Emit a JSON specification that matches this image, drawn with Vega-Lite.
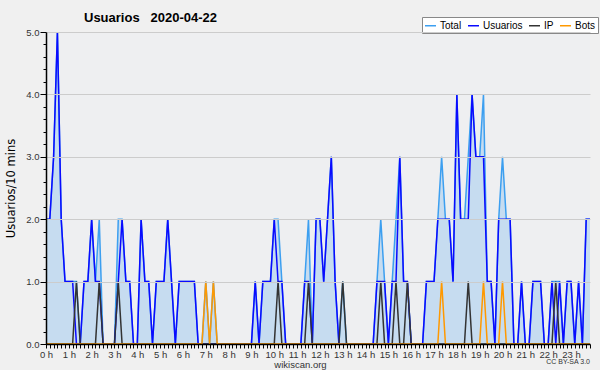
{
  "$schema": "https://vega.github.io/schema/vega-lite/v6.json",
  "width": 544,
  "height": 312,
  "autosize": {"type": "none"},
  "padding": {"left": 46, "top": 32, "right": 10, "bottom": 26},
  "background": "#f0f0f0",
  "config": {
    "view": {"fill": "#eeeff1", "stroke": null},
    "font": "Liberation Sans"
  },
  "title": {"text": "Usuarios\u00a0\u00a0 2020-04-22", "anchor": "start", "frame": "group", "dx": 38, "dy": 17, "fontSize": 13, "fontWeight": "bold", "font": "Liberation Sans", "color": "#000000", "offset": 9},
  "data": {"values": [
    {"t":0,"Total":2,"Usuarios":2,"IP":0,"Bots":0},
    {"t":10,"Total":2,"Usuarios":2,"IP":0,"Bots":0},
    {"t":20,"Total":3,"Usuarios":3,"IP":0,"Bots":0},
    {"t":30,"Total":5,"Usuarios":5,"IP":0,"Bots":0},
    {"t":40,"Total":2,"Usuarios":2,"IP":0,"Bots":0},
    {"t":50,"Total":1,"Usuarios":1,"IP":0,"Bots":0},
    {"t":60,"Total":1,"Usuarios":1,"IP":0,"Bots":0},
    {"t":70,"Total":1,"Usuarios":1,"IP":0,"Bots":0},
    {"t":80,"Total":1,"Usuarios":0,"IP":1,"Bots":0},
    {"t":90,"Total":0,"Usuarios":0,"IP":0,"Bots":0},
    {"t":100,"Total":1,"Usuarios":1,"IP":0,"Bots":0},
    {"t":110,"Total":1,"Usuarios":1,"IP":0,"Bots":0},
    {"t":120,"Total":2,"Usuarios":2,"IP":0,"Bots":0},
    {"t":130,"Total":1,"Usuarios":1,"IP":0,"Bots":0},
    {"t":140,"Total":2,"Usuarios":1,"IP":1,"Bots":0},
    {"t":150,"Total":0,"Usuarios":0,"IP":0,"Bots":0},
    {"t":160,"Total":0,"Usuarios":0,"IP":0,"Bots":0},
    {"t":170,"Total":0,"Usuarios":0,"IP":0,"Bots":0},
    {"t":180,"Total":0,"Usuarios":0,"IP":0,"Bots":0},
    {"t":190,"Total":2,"Usuarios":1,"IP":1,"Bots":0},
    {"t":200,"Total":2,"Usuarios":2,"IP":0,"Bots":0},
    {"t":210,"Total":1,"Usuarios":1,"IP":0,"Bots":0},
    {"t":220,"Total":1,"Usuarios":1,"IP":0,"Bots":0},
    {"t":230,"Total":0,"Usuarios":0,"IP":0,"Bots":0},
    {"t":240,"Total":0,"Usuarios":0,"IP":0,"Bots":0},
    {"t":250,"Total":2,"Usuarios":2,"IP":0,"Bots":0},
    {"t":260,"Total":1,"Usuarios":1,"IP":0,"Bots":0},
    {"t":270,"Total":1,"Usuarios":1,"IP":0,"Bots":0},
    {"t":280,"Total":0,"Usuarios":0,"IP":0,"Bots":0},
    {"t":290,"Total":1,"Usuarios":1,"IP":0,"Bots":0},
    {"t":300,"Total":1,"Usuarios":1,"IP":0,"Bots":0},
    {"t":310,"Total":1,"Usuarios":1,"IP":0,"Bots":0},
    {"t":320,"Total":2,"Usuarios":2,"IP":0,"Bots":0},
    {"t":330,"Total":1,"Usuarios":1,"IP":0,"Bots":0},
    {"t":340,"Total":0,"Usuarios":0,"IP":0,"Bots":0},
    {"t":350,"Total":1,"Usuarios":1,"IP":0,"Bots":0},
    {"t":360,"Total":1,"Usuarios":1,"IP":0,"Bots":0},
    {"t":370,"Total":1,"Usuarios":1,"IP":0,"Bots":0},
    {"t":380,"Total":1,"Usuarios":1,"IP":0,"Bots":0},
    {"t":390,"Total":1,"Usuarios":1,"IP":0,"Bots":0},
    {"t":400,"Total":0,"Usuarios":0,"IP":0,"Bots":0},
    {"t":410,"Total":0,"Usuarios":0,"IP":0,"Bots":0},
    {"t":420,"Total":1,"Usuarios":0,"IP":0,"Bots":1},
    {"t":430,"Total":0,"Usuarios":0,"IP":0,"Bots":0},
    {"t":440,"Total":1,"Usuarios":0,"IP":0,"Bots":1},
    {"t":450,"Total":0,"Usuarios":0,"IP":0,"Bots":0},
    {"t":460,"Total":0,"Usuarios":0,"IP":0,"Bots":0},
    {"t":470,"Total":0,"Usuarios":0,"IP":0,"Bots":0},
    {"t":480,"Total":0,"Usuarios":0,"IP":0,"Bots":0},
    {"t":490,"Total":0,"Usuarios":0,"IP":0,"Bots":0},
    {"t":500,"Total":0,"Usuarios":0,"IP":0,"Bots":0},
    {"t":510,"Total":0,"Usuarios":0,"IP":0,"Bots":0},
    {"t":520,"Total":0,"Usuarios":0,"IP":0,"Bots":0},
    {"t":530,"Total":0,"Usuarios":0,"IP":0,"Bots":0},
    {"t":540,"Total":0,"Usuarios":0,"IP":0,"Bots":0},
    {"t":550,"Total":1,"Usuarios":1,"IP":0,"Bots":0},
    {"t":560,"Total":0,"Usuarios":0,"IP":0,"Bots":0},
    {"t":570,"Total":1,"Usuarios":1,"IP":0,"Bots":0},
    {"t":580,"Total":1,"Usuarios":1,"IP":0,"Bots":0},
    {"t":590,"Total":1,"Usuarios":1,"IP":0,"Bots":0},
    {"t":600,"Total":2,"Usuarios":2,"IP":0,"Bots":0},
    {"t":610,"Total":2,"Usuarios":1,"IP":1,"Bots":0},
    {"t":620,"Total":1,"Usuarios":1,"IP":0,"Bots":0},
    {"t":630,"Total":0,"Usuarios":0,"IP":0,"Bots":0},
    {"t":640,"Total":0,"Usuarios":0,"IP":0,"Bots":0},
    {"t":650,"Total":0,"Usuarios":0,"IP":0,"Bots":0},
    {"t":660,"Total":0,"Usuarios":0,"IP":0,"Bots":0},
    {"t":670,"Total":0,"Usuarios":0,"IP":0,"Bots":0},
    {"t":680,"Total":1,"Usuarios":1,"IP":0,"Bots":0},
    {"t":690,"Total":2,"Usuarios":1,"IP":1,"Bots":0},
    {"t":700,"Total":0,"Usuarios":0,"IP":0,"Bots":0},
    {"t":710,"Total":2,"Usuarios":2,"IP":0,"Bots":0},
    {"t":720,"Total":2,"Usuarios":2,"IP":0,"Bots":0},
    {"t":730,"Total":1,"Usuarios":1,"IP":0,"Bots":0},
    {"t":740,"Total":2,"Usuarios":2,"IP":0,"Bots":0},
    {"t":750,"Total":3,"Usuarios":3,"IP":0,"Bots":0},
    {"t":760,"Total":1,"Usuarios":1,"IP":0,"Bots":0},
    {"t":770,"Total":0,"Usuarios":0,"IP":0,"Bots":0},
    {"t":780,"Total":1,"Usuarios":0,"IP":1,"Bots":0},
    {"t":790,"Total":0,"Usuarios":0,"IP":0,"Bots":0},
    {"t":800,"Total":0,"Usuarios":0,"IP":0,"Bots":0},
    {"t":810,"Total":0,"Usuarios":0,"IP":0,"Bots":0},
    {"t":820,"Total":0,"Usuarios":0,"IP":0,"Bots":0},
    {"t":830,"Total":0,"Usuarios":0,"IP":0,"Bots":0},
    {"t":840,"Total":0,"Usuarios":0,"IP":0,"Bots":0},
    {"t":850,"Total":0,"Usuarios":0,"IP":0,"Bots":0},
    {"t":860,"Total":0,"Usuarios":0,"IP":0,"Bots":0},
    {"t":870,"Total":1,"Usuarios":1,"IP":0,"Bots":0},
    {"t":880,"Total":2,"Usuarios":1,"IP":1,"Bots":0},
    {"t":890,"Total":1,"Usuarios":1,"IP":0,"Bots":0},
    {"t":900,"Total":0,"Usuarios":0,"IP":0,"Bots":0},
    {"t":910,"Total":1,"Usuarios":1,"IP":0,"Bots":0},
    {"t":920,"Total":2,"Usuarios":1,"IP":1,"Bots":0},
    {"t":930,"Total":3,"Usuarios":3,"IP":0,"Bots":0},
    {"t":940,"Total":1,"Usuarios":1,"IP":0,"Bots":0},
    {"t":950,"Total":1,"Usuarios":1,"IP":1,"Bots":0},
    {"t":960,"Total":0,"Usuarios":0,"IP":0,"Bots":0},
    {"t":970,"Total":0,"Usuarios":0,"IP":0,"Bots":0},
    {"t":980,"Total":0,"Usuarios":0,"IP":0,"Bots":0},
    {"t":990,"Total":0,"Usuarios":0,"IP":0,"Bots":0},
    {"t":1000,"Total":1,"Usuarios":1,"IP":0,"Bots":0},
    {"t":1010,"Total":1,"Usuarios":1,"IP":0,"Bots":0},
    {"t":1020,"Total":1,"Usuarios":1,"IP":0,"Bots":0},
    {"t":1030,"Total":2,"Usuarios":2,"IP":0,"Bots":0},
    {"t":1040,"Total":3,"Usuarios":2,"IP":0,"Bots":1},
    {"t":1050,"Total":2,"Usuarios":2,"IP":0,"Bots":0},
    {"t":1060,"Total":2,"Usuarios":2,"IP":0,"Bots":0},
    {"t":1070,"Total":1,"Usuarios":1,"IP":0,"Bots":0},
    {"t":1080,"Total":4,"Usuarios":4,"IP":0,"Bots":0},
    {"t":1090,"Total":2,"Usuarios":2,"IP":0,"Bots":0},
    {"t":1100,"Total":2,"Usuarios":2,"IP":0,"Bots":0},
    {"t":1110,"Total":3,"Usuarios":2,"IP":1,"Bots":0},
    {"t":1120,"Total":4,"Usuarios":4,"IP":0,"Bots":0},
    {"t":1130,"Total":3,"Usuarios":3,"IP":0,"Bots":0},
    {"t":1140,"Total":3,"Usuarios":3,"IP":0,"Bots":0},
    {"t":1150,"Total":4,"Usuarios":3,"IP":0,"Bots":1},
    {"t":1160,"Total":1,"Usuarios":1,"IP":0,"Bots":0},
    {"t":1170,"Total":1,"Usuarios":1,"IP":0,"Bots":0},
    {"t":1180,"Total":0,"Usuarios":0,"IP":0,"Bots":0},
    {"t":1190,"Total":2,"Usuarios":2,"IP":0,"Bots":0},
    {"t":1200,"Total":3,"Usuarios":2,"IP":0,"Bots":1},
    {"t":1210,"Total":2,"Usuarios":2,"IP":0,"Bots":0},
    {"t":1220,"Total":2,"Usuarios":2,"IP":0,"Bots":0},
    {"t":1230,"Total":0,"Usuarios":0,"IP":0,"Bots":0},
    {"t":1240,"Total":0,"Usuarios":0,"IP":0,"Bots":0},
    {"t":1250,"Total":1,"Usuarios":1,"IP":0,"Bots":0},
    {"t":1260,"Total":0,"Usuarios":0,"IP":0,"Bots":0},
    {"t":1270,"Total":0,"Usuarios":0,"IP":0,"Bots":0},
    {"t":1280,"Total":1,"Usuarios":1,"IP":0,"Bots":0},
    {"t":1290,"Total":1,"Usuarios":1,"IP":0,"Bots":0},
    {"t":1300,"Total":1,"Usuarios":1,"IP":0,"Bots":0},
    {"t":1310,"Total":0,"Usuarios":0,"IP":0,"Bots":0},
    {"t":1320,"Total":0,"Usuarios":0,"IP":0,"Bots":0},
    {"t":1330,"Total":1,"Usuarios":1,"IP":0,"Bots":0},
    {"t":1340,"Total":1,"Usuarios":0,"IP":1,"Bots":0},
    {"t":1350,"Total":1,"Usuarios":1,"IP":0,"Bots":0},
    {"t":1360,"Total":0,"Usuarios":0,"IP":0,"Bots":0},
    {"t":1370,"Total":1,"Usuarios":1,"IP":0,"Bots":0},
    {"t":1380,"Total":1,"Usuarios":1,"IP":0,"Bots":0},
    {"t":1390,"Total":0,"Usuarios":0,"IP":0,"Bots":0},
    {"t":1400,"Total":1,"Usuarios":1,"IP":0,"Bots":0},
    {"t":1410,"Total":0,"Usuarios":0,"IP":0,"Bots":0},
    {"t":1420,"Total":2,"Usuarios":2,"IP":0,"Bots":0},
    {"t":1430,"Total":2,"Usuarios":2,"IP":0,"Bots":0}
  ]},
  "layer": [
    {
      "transform": [{"fold": ["Total"], "as": ["serie", "v"]}],
      "mark": {"type": "area", "color": "#c6dcf0", "opacity": 1},
      "encoding": {
        "x": {"field": "t", "type": "quantitative", "scale": {"domain": [0, 1430], "nice": false, "zero": false},
          "axis": {"zindex": 1, "tickCount": 144, "labelExpr": "datum.value % 60 === 0 ? (datum.value / 60) + ' h' : ''", "labelOverlap": false, "labelFlush": false, "grid": false, "tickSize": 4, "tickColor": "#000000", "domainColor": "#000000", "domainWidth": 1.5, "labelFont": "Liberation Sans", "labelFontSize": 9.5, "labelColor": "#333333", "labelPadding": 1, "title": "wikiscan.org", "titleFont": "Liberation Sans", "titleFontSize": 9.5, "titleFontWeight": "normal", "titleColor": "#333333", "titlePadding": 1, "titleX": 254}},
        "y": {"field": "v", "type": "quantitative", "scale": {"domain": [0, 5], "nice": false},
          "axis": {"zindex": 1, "tickCount": 20, "labelExpr": "datum.value % 1 === 0 ? format(datum.value, '.1f') : ''", "labelOverlap": false, "labelFont": "Liberation Sans", "labelFontSize": 9.5, "labelColor": "#333333", "labelPadding": 1,
            "tickSize": {"condition": {"test": "datum.value % 1 === 0", "value": 6}, "value": 3},
            "tickColor": "#000000", "domainColor": "#000000", "domainWidth": 1.5,
            "gridColor": "#cccccc",
            "gridOpacity": {"condition": {"test": "datum.value % 1 === 0 && datum.value > 0", "value": 1}, "value": 0},
            "title": "Usuarios/10 mins", "titleFont": "DejaVu Sans", "titleFontSize": 11.5, "titleFontWeight": "normal", "titleColor": "#000000", "titlePadding": 9}}
      }
    },
    {
      "transform": [{"fold": ["Total", "Usuarios", "IP", "Bots"], "as": ["serie", "v"]}],
      "mark": {"type": "line"},
      "encoding": {
        "x": {"field": "t", "type": "quantitative"},
        "y": {"field": "v", "type": "quantitative"},
        "color": {"field": "serie", "type": "nominal",
          "scale": {"domain": ["Total", "Usuarios", "IP", "Bots"], "range": ["#3c9ff0", "#0a0aff", "#333333", "#ff9900"]},
          "legend": {"orient": "none", "legendX": 376, "legendY": -15, "direction": "horizontal", "title": null, "symbolType": "stroke", "symbolSize": 121, "symbolStrokeWidth": 1.5, "labelFont": "Liberation Sans", "labelFontSize": 10, "labelColor": "#000000", "strokeColor": "#888888", "fillColor": "#ffffff", "padding": 2, "columnPadding": 3, "labelOffset": 3}},
        "strokeWidth": {"field": "serie", "type": "nominal", "scale": {"domain": ["Total", "Usuarios", "IP", "Bots"], "range": [1.5, 1.5, 1.2, 1.2]}, "legend": null}
      }
    },
    {
      "data": {"values": [{"txt": "CC BY-SA 3.0"}]},
      "mark": {"type": "text", "align": "right", "baseline": "top", "fontSize": 7, "font": "Liberation Sans", "color": "#333333", "dy": 14},
      "encoding": {
        "x": {"datum": 1430, "type": "quantitative"},
        "y": {"datum": 0, "type": "quantitative"},
        "text": {"field": "txt"}
      }
    }
  ]
}
